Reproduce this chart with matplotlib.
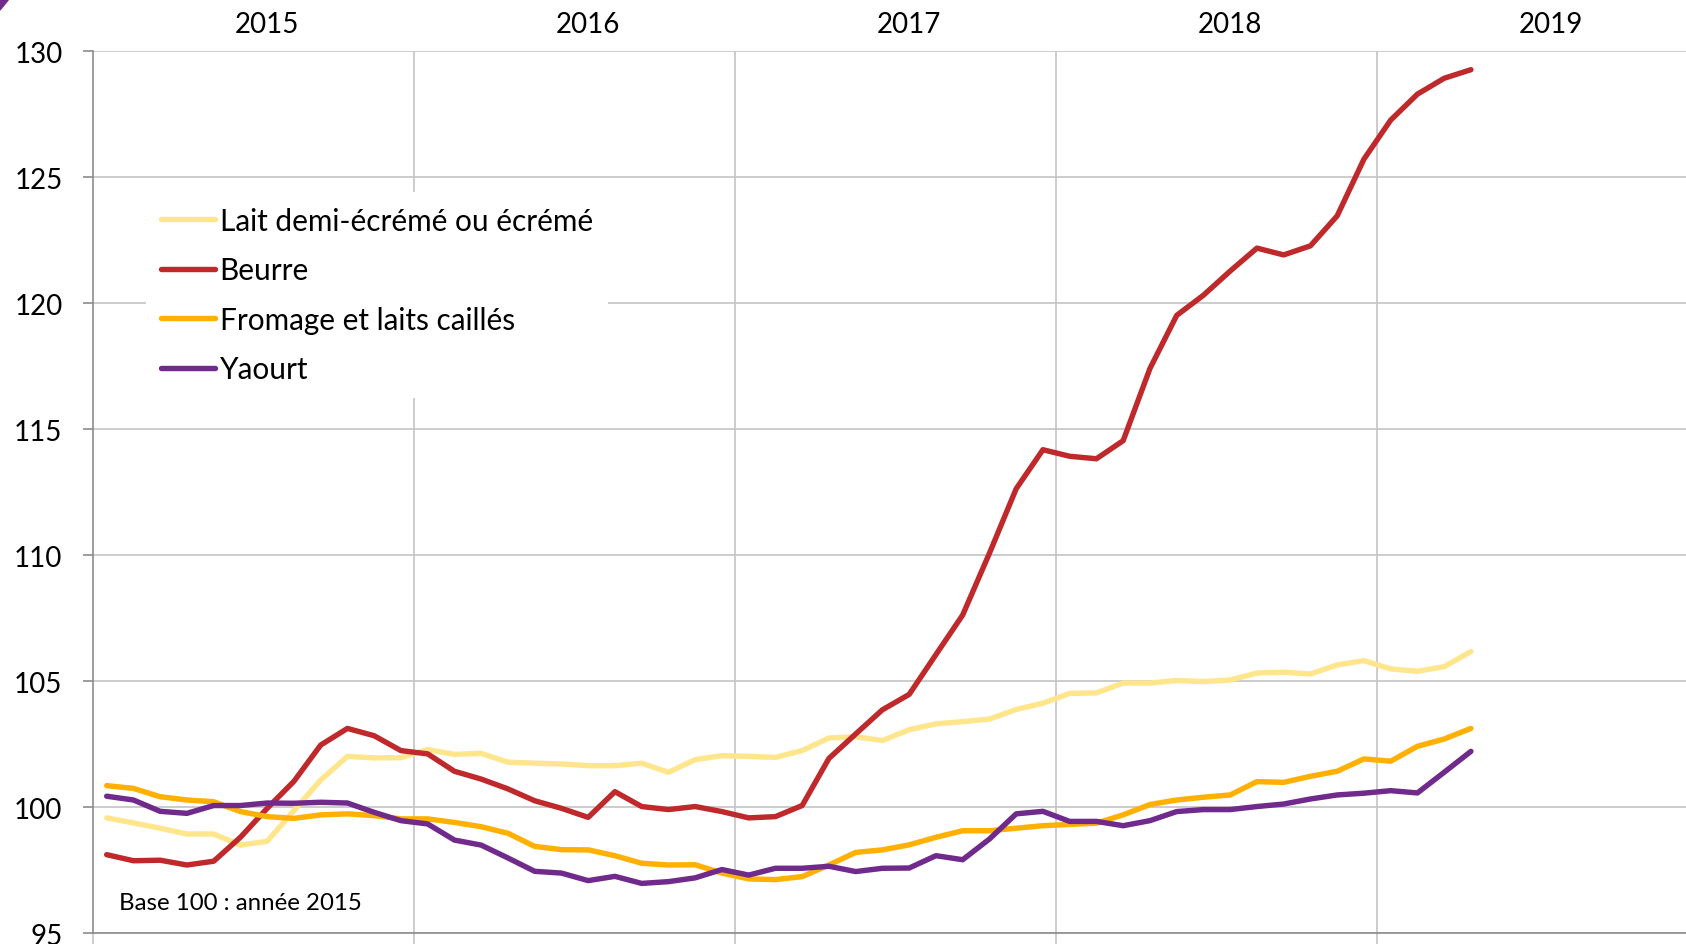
import numpy as np
import matplotlib
matplotlib.use("Agg")
import matplotlib.pyplot as plt
from matplotlib.transforms import blended_transform_factory

# indices des prix, base 100 = 2015, mensuel janv. 2015 -> avr. 2019
lait = [99.58, 99.38, 99.17, 98.94, 98.94, 98.50, 98.65, 99.87, 101.08, 102.02,
        101.96, 101.97, 102.29, 102.10, 102.14, 101.79, 101.75, 101.72, 101.65, 101.65,
        101.75, 101.39, 101.89, 102.05, 102.02, 101.98, 102.25, 102.75, 102.80, 102.65,
        103.08, 103.31, 103.40, 103.50, 103.88, 104.13, 104.52, 104.54, 104.93, 104.93,
        105.03, 104.99, 105.05, 105.33, 105.36, 105.29, 105.65, 105.82, 105.49, 105.40,
        105.58, 106.18]
beurre = [98.12, 97.88, 97.90, 97.71, 97.86, 98.81, 99.96, 101.03, 102.47, 103.13,
          102.84, 102.25, 102.12, 101.43, 101.12, 100.73, 100.26, 99.96, 99.60, 100.62,
          100.03, 99.91, 100.03, 99.83, 99.58, 99.63, 100.07, 101.94, 102.91, 103.87,
          104.48, 106.06, 107.63, 110.08, 112.64, 114.19, 113.93, 113.83, 114.55, 117.41,
          119.52, 120.32, 121.28, 122.19, 121.92, 122.28, 123.47, 125.72, 127.27, 128.30,
          128.93, 129.27]
fromage = [100.86, 100.75, 100.42, 100.29, 100.22, 99.83, 99.63, 99.56, 99.70, 99.74,
           99.67, 99.54, 99.54, 99.40, 99.23, 98.97, 98.45, 98.32, 98.31, 98.08,
           97.78, 97.71, 97.72, 97.39, 97.16, 97.13, 97.25, 97.71, 98.21, 98.31,
           98.51, 98.81, 99.07, 99.07, 99.17, 99.27, 99.32, 99.37, 99.70, 100.11,
           100.29, 100.40, 100.49, 101.02, 100.99, 101.23, 101.43, 101.92, 101.83, 102.42,
           102.71, 103.13]
yaourt = [100.44, 100.29, 99.84, 99.76, 100.07, 100.07, 100.17, 100.16, 100.20, 100.17,
          99.80, 99.47, 99.34, 98.70, 98.50, 97.99, 97.46, 97.39, 97.09, 97.26,
          96.98, 97.05, 97.20, 97.53, 97.31, 97.58, 97.58, 97.66, 97.45, 97.58,
          97.59, 98.08, 97.92, 98.74, 99.74, 99.84, 99.44, 99.44, 99.27, 99.47,
          99.83, 99.91, 99.91, 100.03, 100.13, 100.33, 100.49, 100.56, 100.66, 100.57,
          101.39, 102.22]

annees = ["2015", "2016", "2017", "2018", "2019"]
noms = ["Lait demi-écrémé ou écrémé", "Beurre", "Fromage et laits caillés", "Yaourt"]
couleurs = ["#FFE68C", "#C0292B", "#FFB000", "#702A8C"]

plt.rcParams['font.family'] = ['Lato', 'DejaVu Sans']

W, H = 1686, 945
fig = plt.figure(figsize=(W / 100, H / 100), dpi=100)
ax = fig.add_axes([93.3 / W, 10.7 / H, 1 - 93.3 / W, (934.3 - 52.3) / H])

x = np.arange(len(beurre)) + 0.5
for serie, nom, c in zip([lait, beurre, fromage, yaourt], noms, couleurs):
    ax.plot(x, serie, color=c, lw=3.9, label=nom, solid_capstyle='round',
            solid_joinstyle='round', zorder=3)

ax.set_xlim(0, (W - 93.3) / 26.75)
ax.set_ylim(95, 130)
ax.set_yticks(np.arange(95, 131, 5))
ax.set_xticks(np.arange(0, 60, 12))
ax.set_xticklabels([])

ax.grid(axis='y', color='#C4C4C4', lw=1.2, zorder=0)
for k in range(1, 5):
    ax.axvline(12 * k, color='#C4C4C4', lw=1.2, zorder=0)

for s in ['top', 'right']:
    ax.spines[s].set_visible(False)
for s in ['left', 'bottom']:
    ax.spines[s].set_color('#8C8C8C')
    ax.spines[s].set_linewidth(1.2)

ax.tick_params(axis='y', direction='out', length=7.2, width=1.2, color='#8C8C8C',
               pad=15, labelsize=20, labelcolor='black')
ax.tick_params(axis='x', direction='out', length=12, width=1.2, color='#C4C4C4')

# annees en haut
trans = blended_transform_factory(ax.transData, fig.transFigure)
for k, a in enumerate(annees):
    ax.text(12 * k + 6.5, (H - 33) / H, a, transform=trans, ha='center',
            va='baseline', fontsize=20, clip_on=False)

leg = ax.legend(loc='upper left', bbox_to_anchor=(146 / W, (H - 193) / H),
                bbox_transform=fig.transFigure, borderaxespad=0, fontsize=21.4,
                frameon=True, fancybox=False, handlelength=1.82, handletextpad=0.16,
                labelspacing=0.72, borderpad=0.5)
leg.get_frame().set_facecolor('white')
leg.get_frame().set_edgecolor('none')
leg.get_frame().set_alpha(1)
for ln in leg.get_lines():
    ln.set_linewidth(3.9)

fig.text(119 / W, (H - 910) / H, "Base 100 : année 2015", fontsize=17.3,
         va='baseline', ha='left')

# petit coin violet
fig.patches.append(plt.Polygon([(0, 1), (9 / W, 1), (0, 1 - 11 / H)], closed=True,
                               transform=fig.transFigure, color='#702A8C'))

fig.savefig("out.png", dpi=100)
